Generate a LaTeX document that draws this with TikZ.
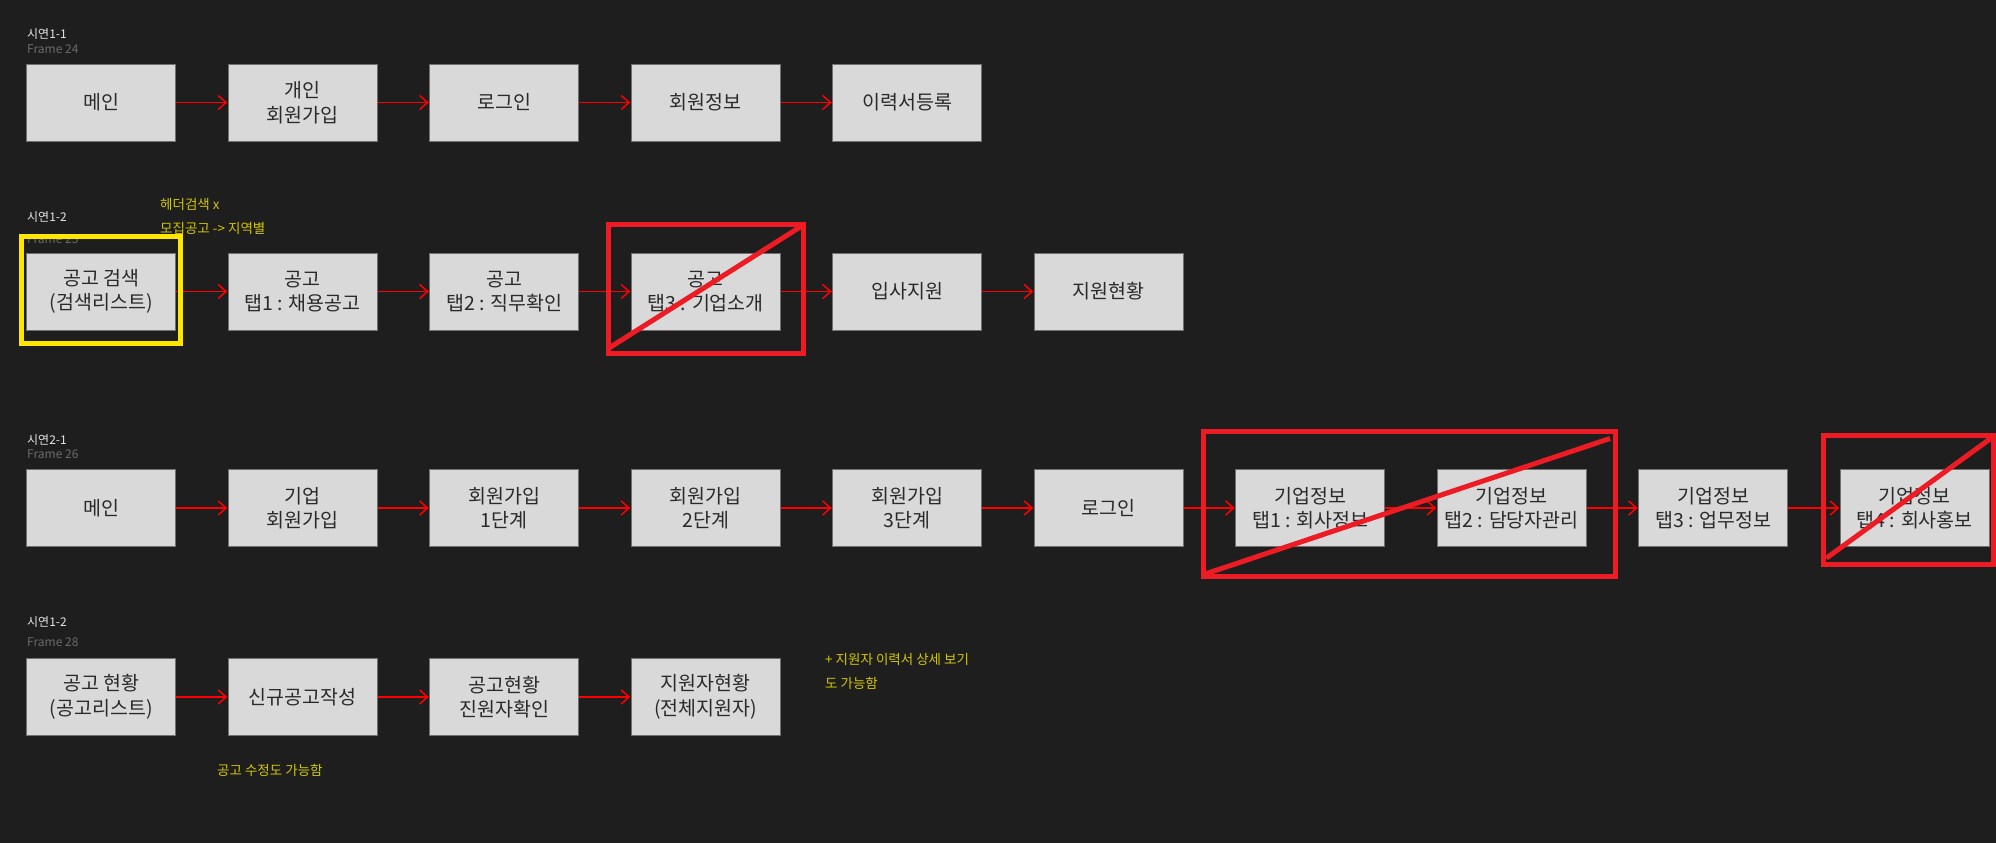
\documentclass[tikz,border=0pt]{standalone}
\usepackage{fontspec}
\setmainfont{Noto Sans CJK KR}
\usetikzlibrary{arrows.meta}
\definecolor{bg}{HTML}{1E1E1E}
\definecolor{boxfill}{HTML}{D9D9D9}
\definecolor{boxline}{HTML}{707070}
\definecolor{arrowred}{HTML}{FF0000}
\definecolor{xred}{HTML}{ED1C24}
\definecolor{hl}{HTML}{FFE600}
\definecolor{notecol}{HTML}{D2C600}
\definecolor{labcol}{HTML}{E6E6E6}
\definecolor{framecol}{HTML}{6A6A6A}
\definecolor{boxtext}{HTML}{2A2A2A}
\tikzset{
  box/.style={draw=boxline, line width=0.8pt, fill=boxfill, minimum width=149pt, minimum height=77pt, inner sep=0pt, align=center, text=boxtext, font=\fontsize{19.5}{24.5}\selectfont},
  flow/.style={draw=arrowred, line width=1.5pt, -{Straight Barb[length=8pt,width=14pt,line width=1.5pt]}, shorten >=0.5pt},
  lab/.style={anchor=west, inner sep=0pt, text=labcol, font=\fontsize{12}{14}\selectfont},
  framelab/.style={anchor=west, inner sep=0pt, text=framecol, font=\fontsize{12}{14}\selectfont},
  note/.style={anchor=west, inner sep=0pt, text=notecol, font=\fontsize{13.5}{16}\selectfont},
  cross/.style={draw=xred, line width=5pt},
  hlbox/.style={draw=hl, line width=5pt}
}
\begin{document}
\begin{tikzpicture}[x=1pt,y=-1pt]
\fill[bg] (0,0) rectangle (1996,843);
\useasboundingbox (0,0) rectangle (1996,843);

% labels
\node[lab] (l1) at (27,34) {시연1-1};
\node[framelab] (f1) at (27,49) {Frame 24};
\node[lab] (l2) at (27,217.5) {시연1-2};
\node[framelab] (f2) at (27,239) {Frame 25};
\node[lab] (l3) at (27,440.5) {시연2-1};
\node[framelab] (f3) at (27,454) {Frame 26};
\node[lab] (l4) at (27,622.5) {시연1-2};
\node[framelab] (f4) at (27,642.5) {Frame 28};

% notes
\node[note] (n1) at (160,204) {헤더검색 x};
\node[note] (n2) at (160,228) {모집공고 -> 지역별};
\node[note] (n3) at (825,659) {+ 지원자 이력서 상세 보기};
\node[note] (n4) at (825,683) {도 가능함};
\node[note] (n5) at (217,770.5) {공고 수정도 가능함};

% row 1
\node[box] (a1) at (101.2,102.5) {메인};
\node[box] (a2) at (302.7,102.5) {개인\\회원가입};
\node[box] (a3) at (504.2,102.5) {로그인};
\node[box] (a4) at (705.7,102.5) {회원정보};
\node[box] (a5) at (907.2,102.5) {이력서등록};
\foreach \p/\q in {a1/a2,a2/a3,a3/a4,a4/a5} \draw[flow] (\p) -- (\q);

% row 2
\node[box] (b1) at (101.2,291.5) {공고 검색\\(검색리스트)};
\node[box] (b2) at (302.7,291.5) {공고\\탭1 : 채용공고};
\node[box] (b3) at (504.2,291.5) {공고\\탭2 : 직무확인};
\node[box] (b4) at (705.7,291.5) {공고\\탭3 : 기업소개};
\node[box] (b5) at (907.2,291.5) {입사지원};
\node[box] (b6) at (1108.7,291.5) {지원현황};
\foreach \p/\q in {b1/b2,b2/b3,b3/b4,b4/b5,b5/b6} \draw[flow] (\p) -- (\q);

% row 3
\node[box] (c1) at (101.2,508) {메인};
\node[box] (c2) at (302.7,508) {기업\\회원가입};
\node[box] (c3) at (504.2,508) {회원가입\\1단계};
\node[box] (c4) at (705.7,508) {회원가입\\2단계};
\node[box] (c5) at (907.2,508) {회원가입\\3단계};
\node[box] (c6) at (1108.7,508) {로그인};
\node[box] (c7) at (1310.2,508) {기업정보\\탭1 : 회사정보};
\node[box] (c8) at (1511.7,508) {기업정보\\탭2 : 담당자관리};
\node[box] (c9) at (1713.2,508) {기업정보\\탭3 : 업무정보};
\node[box] (c10) at (1914.7,508) {기업정보\\탭4 : 회사홍보};
\foreach \p/\q in {c1/c2,c2/c3,c3/c4,c4/c5,c5/c6,c6/c7,c7/c8,c8/c9,c9/c10} \draw[flow] (\p) -- (\q);

% row 4
\node[box] (d1) at (101.2,697) {공고 현황\\(공고리스트)};
\node[box] (d2) at (302.7,697) {신규공고작성};
\node[box] (d3) at (504.2,697) {공고현황\\진원자확인};
\node[box] (d4) at (705.7,697) {지원자현황\\(전체지원자)};
\foreach \p/\q in {d1/d2,d2/d3,d3/d4} \draw[flow] (\p) -- (\q);

% highlight
\draw[hlbox] (21.5,236.5) rectangle (180.5,343);

% crosses
\draw[cross] (608.5,224.5) rectangle (803.5,353.5);
\draw[cross] (609,348) -- (802.5,225.5);
\draw[cross] (1203,431.5) rectangle (1615,576.5);
\draw[cross] (1203.5,574.5) -- (1610,438.5);
\draw[cross] (1823,435.5) rectangle (1993,564.5);
\draw[cross] (1826.5,558) -- (1992,437.5);
\end{tikzpicture}
\end{document}
